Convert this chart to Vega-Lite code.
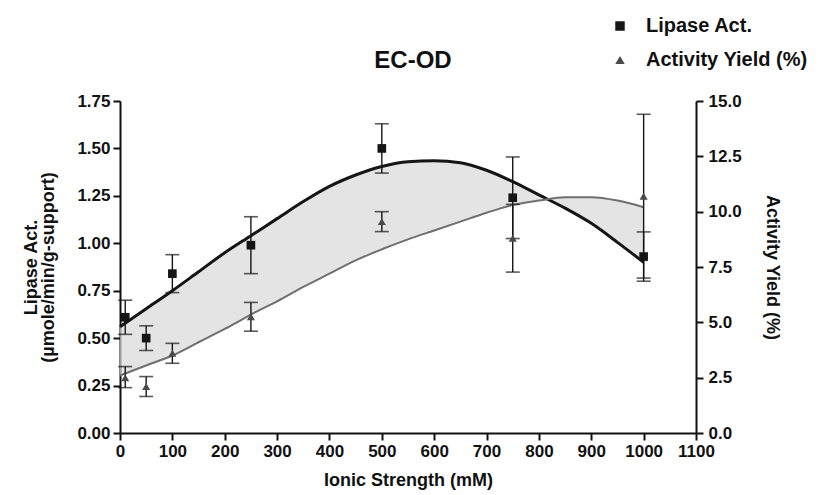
{
  "$schema": "https://vega.github.io/schema/vega-lite/v6.json",
  "width": 576,
  "height": 332,
  "autosize": {"type": "none"},
  "padding": {"left": 120, "top": 101, "right": 128, "bottom": 62},
  "background": "white",
  "title": {"text": "EC-OD", "fontSize": 24, "font": "Liberation Sans", "fontWeight": "bold", "color": "#111111", "offset": -57, "dx": 5},
  "config": {
    "view": {"stroke": null},
    "axis": {
      "grid": false,
      "domainColor": "#111111",
      "domainWidth": 2,
      "tickColor": "#111111",
      "tickWidth": 2,
      "tickSize": 7,
      "labelFont": "Liberation Sans",
      "labelFontSize": 17,
      "labelFontWeight": "bold",
      "labelColor": "#111111",
      "labelPadding": 3,
      "titleFont": "Liberation Sans",
      "titleFontSize": 18,
      "titleFontWeight": "bold",
      "titleColor": "#111111"
    },
    "legend": {
      "labelFont": "Liberation Sans",
      "labelFontSize": 20,
      "labelFontWeight": "bold",
      "labelColor": "#111111",
      "labelLimit": 300,
      "symbolSize": 90,
      "rowPadding": 14,
      "labelOffset": 16
    }
  },
  "datasets": {
    "pts": [
      {"x": 10, "lipase": 0.61, "lipase_lo": 0.52, "lipase_hi": 0.70, "yield": 2.5, "yield_lo": 2.05, "yield_hi": 3.0},
      {"x": 50, "lipase": 0.50, "lipase_lo": 0.435, "lipase_hi": 0.565, "yield": 2.1, "yield_lo": 1.65, "yield_hi": 2.55},
      {"x": 100, "lipase": 0.84, "lipase_lo": 0.74, "lipase_hi": 0.94, "yield": 3.6, "yield_lo": 3.15, "yield_hi": 4.05},
      {"x": 250, "lipase": 0.99, "lipase_lo": 0.84, "lipase_hi": 1.14, "yield": 5.25, "yield_lo": 4.6, "yield_hi": 5.9},
      {"x": 500, "lipase": 1.50, "lipase_lo": 1.37, "lipase_hi": 1.63, "yield": 9.55, "yield_lo": 9.1, "yield_hi": 10.0},
      {"x": 750, "lipase": 1.24, "lipase_lo": 1.025, "lipase_hi": 1.455, "yield": 8.8, "yield_lo": 7.27, "yield_hi": 10.33},
      {"x": 1000, "lipase": 0.93, "lipase_lo": 0.80, "lipase_hi": 1.06, "yield": 10.7, "yield_lo": 7.0, "yield_hi": 14.4}
    ],
    "fit": [
      {"x": 0, "lipase_fit": 0.56, "yield_fit": 2.6, "yield_fit_left": 0.3033},
      {"x": 50, "lipase_fit": 0.655, "yield_fit": 3.05, "yield_fit_left": 0.3558},
      {"x": 100, "lipase_fit": 0.75, "yield_fit": 3.5, "yield_fit_left": 0.4083},
      {"x": 150, "lipase_fit": 0.85, "yield_fit": 4.1, "yield_fit_left": 0.4783},
      {"x": 200, "lipase_fit": 0.95, "yield_fit": 4.7, "yield_fit_left": 0.5483},
      {"x": 250, "lipase_fit": 1.04, "yield_fit": 5.35, "yield_fit_left": 0.6242},
      {"x": 300, "lipase_fit": 1.13, "yield_fit": 5.95, "yield_fit_left": 0.6942},
      {"x": 350, "lipase_fit": 1.22, "yield_fit": 6.6, "yield_fit_left": 0.77},
      {"x": 400, "lipase_fit": 1.30, "yield_fit": 7.2, "yield_fit_left": 0.84},
      {"x": 450, "lipase_fit": 1.36, "yield_fit": 7.8, "yield_fit_left": 0.91},
      {"x": 500, "lipase_fit": 1.405, "yield_fit": 8.3, "yield_fit_left": 0.9683},
      {"x": 550, "lipase_fit": 1.43, "yield_fit": 8.75, "yield_fit_left": 1.0208},
      {"x": 600, "lipase_fit": 1.435, "yield_fit": 9.15, "yield_fit_left": 1.0675},
      {"x": 650, "lipase_fit": 1.425, "yield_fit": 9.55, "yield_fit_left": 1.1142},
      {"x": 700, "lipase_fit": 1.385, "yield_fit": 9.95, "yield_fit_left": 1.1608},
      {"x": 750, "lipase_fit": 1.325, "yield_fit": 10.3, "yield_fit_left": 1.2017},
      {"x": 800, "lipase_fit": 1.255, "yield_fit": 10.5, "yield_fit_left": 1.225},
      {"x": 850, "lipase_fit": 1.185, "yield_fit": 10.65, "yield_fit_left": 1.2425},
      {"x": 900, "lipase_fit": 1.105, "yield_fit": 10.65, "yield_fit_left": 1.2425},
      {"x": 950, "lipase_fit": 1.005, "yield_fit": 10.5, "yield_fit_left": 1.225},
      {"x": 1000, "lipase_fit": 0.90, "yield_fit": 10.2, "yield_fit_left": 1.19}
    ]
  },
  "encoding": {
    "x": {"field": "x", "type": "quantitative", "scale": {"domain": [0, 1100], "nice": false},
          "axis": {"values": [0, 100, 200, 300, 400, 500, 600, 700, 800, 900, 1000, 1100], "format": "d", "title": "Ionic Strength (mM)", "titlePadding": 12, "labelFlush": false}}
  },
  "layer": [
    {
      "layer": [
        {
          "data": {"name": "fit"},
          "mark": {"type": "area", "color": "#d9d9d9", "opacity": 0.7, "interpolate": "monotone"},
          "encoding": {
            "y": {"field": "lipase_fit", "type": "quantitative", "scale": {"domain": [0, 1.75], "nice": false},
                  "axis": {"orient": "left", "values": [0, 0.25, 0.5, 0.75, 1, 1.25, 1.5, 1.75], "format": ".2f", "title": ["Lipase Act.", "(µmole/min/g-support)"], "titlePadding": 19, "titleLineHeight": 17, "labelFlush": false}},
            "y2": {"field": "yield_fit_left"}
          }
        },
        {
          "data": {"name": "fit"},
          "mark": {"type": "line", "color": "#151515", "strokeWidth": 3, "interpolate": "monotone"},
          "encoding": {
            "y": {"field": "lipase_fit", "type": "quantitative"}
          }
        },
        {
          "data": {"name": "pts"},
          "mark": {"type": "rule", "color": "#151515", "strokeWidth": 1.4},
          "encoding": {
            "y": {"field": "lipase_lo", "type": "quantitative"},
            "y2": {"field": "lipase_hi"}
          }
        },
        {
          "data": {"name": "pts"},
          "mark": {"type": "tick", "orient": "horizontal", "color": "#151515", "size": 14, "thickness": 1.6},
          "encoding": {
            "y": {"field": "lipase_lo", "type": "quantitative"}
          }
        },
        {
          "data": {"name": "pts"},
          "mark": {"type": "tick", "orient": "horizontal", "color": "#151515", "size": 14, "thickness": 1.6},
          "encoding": {
            "y": {"field": "lipase_hi", "type": "quantitative"}
          }
        },
        {
          "data": {"name": "pts"},
          "mark": {"type": "point", "filled": true, "size": 75, "opacity": 1},
          "encoding": {
            "y": {"field": "lipase", "type": "quantitative"},
            "shape": {"datum": "Lipase Act.", "type": "nominal", "scale": {"domain": ["Lipase Act.", "Activity Yield (%)"], "range": ["square", "triangle-up"]},
                      "legend": {"title": null, "orient": "none", "legendX": 490, "legendY": -85}},
            "color": {"datum": "Lipase Act.", "type": "nominal", "scale": {"domain": ["Lipase Act.", "Activity Yield (%)"], "range": ["#151515", "#4a4a4a"]},
                      "legend": {"title": null, "orient": "none", "legendX": 490, "legendY": -85}}
          }
        }
      ]
    },
    {
      "layer": [
        {
          "data": {"name": "fit"},
          "mark": {"type": "line", "color": "#6f6f6f", "strokeWidth": 2, "interpolate": "monotone"},
          "encoding": {
            "y": {"field": "yield_fit", "type": "quantitative", "scale": {"domain": [0, 15], "nice": false},
                  "axis": {"orient": "right", "values": [0, 2.5, 5, 7.5, 10, 12.5, 15], "format": ".1f", "title": "Activity Yield (%)", "titlePadding": 21, "labelPadding": 5, "labelFlush": false}}
          }
        },
        {
          "data": {"name": "pts"},
          "mark": {"type": "rule", "color": "#151515", "strokeWidth": 1.4},
          "encoding": {
            "y": {"field": "yield_lo", "type": "quantitative"},
            "y2": {"field": "yield_hi"}
          }
        },
        {
          "data": {"name": "pts"},
          "mark": {"type": "tick", "orient": "horizontal", "color": "#151515", "size": 14, "thickness": 1.6},
          "encoding": {
            "y": {"field": "yield_lo", "type": "quantitative"}
          }
        },
        {
          "data": {"name": "pts"},
          "mark": {"type": "tick", "orient": "horizontal", "color": "#151515", "size": 14, "thickness": 1.6},
          "encoding": {
            "y": {"field": "yield_hi", "type": "quantitative"}
          }
        },
        {
          "data": {"name": "pts"},
          "mark": {"type": "point", "filled": true, "size": 65, "opacity": 1},
          "encoding": {
            "y": {"field": "yield", "type": "quantitative"},
            "shape": {"datum": "Activity Yield (%)", "type": "nominal", "scale": {"domain": ["Lipase Act.", "Activity Yield (%)"], "range": ["square", "triangle-up"]},
                      "legend": {"title": null, "orient": "none", "legendX": 490, "legendY": -85}},
            "color": {"datum": "Activity Yield (%)", "type": "nominal", "scale": {"domain": ["Lipase Act.", "Activity Yield (%)"], "range": ["#151515", "#4a4a4a"]},
                      "legend": {"title": null, "orient": "none", "legendX": 490, "legendY": -85}}
          }
        }
      ]
    }
  ],
  "resolve": {"scale": {"y": "independent"}, "axis": {"y": "independent"}}
}
